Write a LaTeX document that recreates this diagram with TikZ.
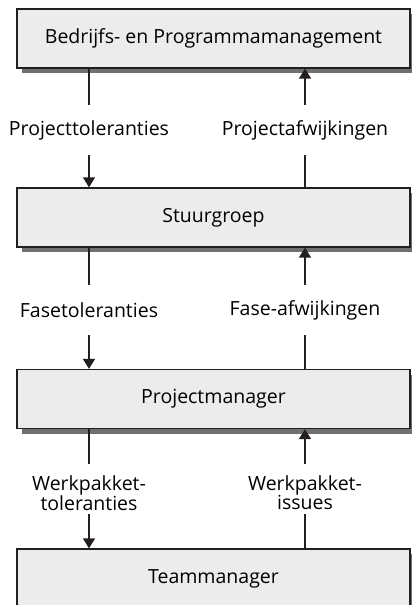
\documentclass[tikz,border=0pt]{standalone}
\usepackage{fontspec}
\setmainfont{Open Sans}
\usetikzlibrary{arrows.meta,shadows}
\definecolor{boxfill}{RGB}{236,236,238}
\definecolor{boxline}{RGB}{35,31,32}
\definecolor{shadowgray}{RGB}{112,112,112}
\begin{document}
\begin{tikzpicture}[x=1pt,y=-1pt,
  level/.style={draw=boxline, line width=1.3pt, fill=boxfill,
    minimum width=393pt, minimum height=59pt, inner sep=0pt,
    font=\fontsize{19.5}{23}\selectfont,
    drop shadow={shadow xshift=5pt, shadow yshift=-5pt, fill=shadowgray, opacity=1}},
  flowlabel/.style={inner sep=0pt, minimum height=50pt, align=center,
    font=\fontsize{19.5}{19}\selectfont},
  flow/.style={draw=boxline, line width=1.5pt},
  flowtip/.style={flow, -{Triangle[width=12pt,length=10pt]}}
]
\useasboundingbox (0,0) rectangle (412,605);

% organisation levels
\node[level] (bpm) at (213.5,38.5) {Bedrijfs- en Programmamanagement};
\node[level] (sg)  at (213.5,217.5) {Stuurgroep};
\node[level] (pm)  at (213.5,399) {Projectmanager};
\node[level] (tm)  at (213.5,578.5) {Teammanager};

% labels between the levels
\node[flowlabel] (tol1) at (89,130) {Projecttoleranties};
\node[flowlabel] (afw1) at (305,130) {Projectafwijkingen};
\node[flowlabel] (tol2) at (89,310) {Fasetoleranties};
\node[flowlabel] (afw2) at (305,310) {Fase-afwijkingen};
\node[flowlabel] (tol3) at (89,493) {Werkpakket-\\toleranties};
\node[flowlabel] (afw3) at (305,493) {Werkpakket-\\issues};

% tolerances passed downwards
\draw[flow] (bpm.south -| tol1) -- (tol1.north);
\draw[flowtip] (tol1.south) -- (sg.north -| tol1);
\draw[flow] (sg.south -| tol2) -- (tol2.north);
\draw[flowtip] (tol2.south) -- (pm.north -| tol2);
\draw[flow, shorten >=4pt] (pm.south -| tol3) -- (tol3.north);
\draw[flowtip, shorten <=-4pt] (tol3.south) -- (tm.north -| tol3);

% deviations reported upwards
\draw[flowtip] (afw1.north) -- (bpm.south -| afw1);
\draw[flow] (sg.north -| afw1) -- (afw1.south);
\draw[flowtip] (afw2.north) -- (sg.south -| afw2);
\draw[flow] (pm.north -| afw2) -- (afw2.south);
\draw[flowtip, shorten <=4pt] (afw3.north) -- (pm.south -| afw3);
\draw[flow, shorten >=-4pt] (tm.north -| afw3) -- (afw3.south);
\end{tikzpicture}
\end{document}
